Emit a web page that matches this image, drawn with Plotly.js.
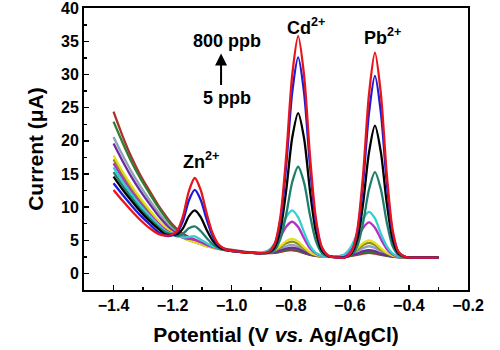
<!DOCTYPE html>
<html>
<head>
<meta charset="utf-8">
<script src="https://cdn.plot.ly/plotly-3.0.1.min.js"></script>
<style>html,body{margin:0;padding:0;background:#fff;}#chart{width:500px;height:350px;}</style>
</head>
<body>
<div id="chart"></div>
<script>
// Potential (V vs. Ag/AgCl)
const potential = [-1.40,-1.37,-1.34,-1.31,-1.28,-1.25,-1.225,-1.205,-1.185,-1.165,-1.145,-1.125,-1.105,-1.085,-1.065,-1.045,-1.02,-0.99,-0.96,-0.93,-0.90,
  -0.875,-0.855,-0.835,-0.815,-0.795,-0.775,-0.755,-0.735,-0.715,-0.695,-0.675,-0.655,-0.635,
  -0.615,-0.595,-0.575,-0.555,-0.535,-0.515,-0.495,-0.475,-0.455,-0.435,-0.41,-0.37,-0.33,-0.30];

// Current (µA), lowest to highest concentration
const curBrown = [24.4,20.8,17.6,14.9,12.6,10.4,8.8,7.6,6.7,6.0,5.5,5.1,4.7,4.4,4.1,3.9,3.7,3.5,3.3,3.2,3.1,
  3.05,3.1,3.25,3.45,3.5,3.35,3.05,2.8,2.65,2.6,2.6,2.55,2.55,
  2.55,2.65,2.8,3.0,3.1,3.0,2.8,2.65,2.55,2.45,2.4,2.4,2.4,2.4];
const curGreen = [22.9,19.8,16.9,14.4,12.2,10.1,8.5,7.3,6.4,5.8,5.3,4.9,4.6,4.3,4.0,3.8,3.6,3.4,3.25,3.1,3.05,
  3.1,3.15,3.35,3.6,3.7,3.5,3.15,2.85,2.65,2.6,2.6,2.55,2.55,
  2.55,2.7,2.9,3.2,3.3,3.2,2.9,2.7,2.55,2.45,2.4,2.4,2.4,2.4];
const curGray = [20.6,17.9,15.4,13.2,11.2,9.3,7.9,6.9,6.2,5.6,5.2,4.85,4.5,4.2,3.95,3.75,3.55,3.35,3.2,3.1,3.05,
  3.1,3.3,3.65,4.1,4.3,4.0,3.5,3.0,2.7,2.6,2.6,2.55,2.55,
  2.6,2.9,3.35,3.85,4.1,3.85,3.35,2.9,2.6,2.5,2.45,2.4,2.4,2.4];
const curPurple = [19.6,17.0,14.6,12.5,10.6,8.8,7.5,6.6,6.0,5.5,5.1,4.8,4.5,4.2,3.95,3.75,3.55,3.35,3.2,3.1,3.05,
  3.1,3.2,3.45,3.75,3.9,3.7,3.25,2.9,2.7,2.6,2.6,2.55,2.55,
  2.55,2.75,3.0,3.35,3.5,3.35,3.0,2.75,2.55,2.45,2.4,2.4,2.4,2.4];
const curOlive = [17.2,14.9,12.9,11.0,9.4,7.9,6.9,6.2,5.8,5.4,5.0,4.7,4.4,4.1,3.9,3.7,3.5,3.35,3.2,3.1,3.05,
  3.15,3.4,3.95,4.55,4.8,4.45,3.75,3.1,2.75,2.6,2.6,2.55,2.55,
  2.65,3.0,3.6,4.3,4.6,4.3,3.6,3.0,2.65,2.5,2.45,2.4,2.4,2.4];
const curYellow = [17.8,15.4,13.3,11.4,9.7,8.1,7.0,6.3,5.8,5.4,5.0,4.7,4.4,4.1,3.9,3.7,3.5,3.35,3.2,3.1,3.05,
  3.2,3.5,4.15,4.9,5.2,4.8,3.95,3.2,2.8,2.6,2.6,2.55,2.55,
  2.7,3.1,3.8,4.6,5.0,4.6,3.8,3.1,2.7,2.55,2.45,2.4,2.4,2.4];
const curMagenta = [16.6,14.4,12.4,10.6,9.0,7.6,6.6,6.1,5.8,5.4,5.2,5.1,4.7,4.3,4.0,3.75,3.5,3.35,3.2,3.1,3.1,
  3.4,4.1,5.5,7.1,7.8,7.0,5.3,3.8,3.0,2.65,2.6,2.55,2.6,
  2.9,3.7,5.2,6.9,7.7,6.9,5.2,3.7,2.85,2.55,2.45,2.4,2.4,2.4];
const curCyan = [16.0,13.9,12.0,10.3,8.8,7.4,6.4,6.0,5.7,5.4,5.5,5.6,5.1,4.6,4.1,3.8,3.5,3.35,3.2,3.1,3.1,
  3.5,4.5,6.4,8.55,9.5,8.45,6.2,4.2,3.1,2.7,2.6,2.55,2.6,
  3.0,4.1,6.0,8.3,9.3,8.3,6.0,4.1,3.0,2.6,2.45,2.4,2.4,2.4];
const curTeal = [15.3,13.3,11.5,9.8,8.4,7.1,6.2,5.9,5.6,6.0,6.8,7.1,6.4,5.35,4.45,3.85,3.5,3.35,3.2,3.1,3.05,
  3.1,3.5,5.2,9.0,13.8,16.1,13.7,8.8,4.9,3.1,2.6,2.5,2.5,
  2.45,2.8,4.1,7.7,12.7,15.3,12.7,7.7,4.1,2.8,2.45,2.4,2.4,2.4];
const curBlack = [14.6,12.7,11.0,9.4,8.0,6.8,5.9,5.8,5.9,6.8,8.6,9.5,8.5,6.6,5.0,4.05,3.55,3.35,3.2,3.1,3.05,
  3.15,3.9,6.6,12.7,20.5,24.2,20.4,12.5,6.3,3.5,2.65,2.45,2.4,
  2.45,3.0,5.1,10.6,18.3,22.3,18.3,10.6,5.1,3.0,2.45,2.4,2.4,2.4];
const curBlue = [13.6,11.9,10.3,8.8,7.5,6.3,5.7,5.7,6.2,7.9,11.0,12.6,11.1,8.2,5.7,4.3,3.6,3.35,3.2,3.1,3.05,
  3.2,4.3,8.0,16.5,27.4,32.6,27.3,16.3,7.7,3.9,2.7,2.45,2.4,
  2.5,3.2,6.1,13.7,24.3,29.8,24.3,13.7,6.1,3.2,2.45,2.4,2.4,2.4];
const curRed = [12.6,11.0,9.5,8.1,6.9,6.0,5.7,5.8,6.4,8.6,12.4,14.4,12.6,9.1,6.1,4.4,3.6,3.35,3.2,3.1,3.05,
  3.25,4.4,8.6,17.95,29.96,35.8,29.9,17.75,8.3,4.0,2.75,2.45,2.4,
  2.4,3.2,6.5,15.0,27.1,33.3,27.1,15.0,6.5,3.2,2.45,2.4,2.4,2.4];

const seriesList = [curBrown,curGreen,curGray,curPurple,curOlive,curYellow,curMagenta,curCyan,curTeal,curBlack,curBlue,curRed];
const colors = ['#a8322c','#2f7d2f','#8fa0b8','#6a2c9c','#8c8a22','#e3df1e','#b52fc6','#35cfd0','#1f7f6c','#000000','#1c1cd8','#e8141c'];

const traces = seriesList.map((ys, i) => ({
  x: potential, y: ys, type: 'scatter', mode: 'lines',
  line: {color: colors[i], width: 2.3, shape: 'spline', smoothing: 0.8},
  showlegend: false, hoverinfo: 'skip'
}));

const FONT = 'Arial, "Liberation Sans", sans-serif';
const layout = {
  width: 500, height: 350,
  margin: {l: 84, r: 32, t: 8, b: 60},
  paper_bgcolor: '#fff', plot_bgcolor: '#fff',
  font: {family: FONT, color: '#000'},
  xaxis: {
    range: [-1.5, -0.2], dtick: 0.2, tick0: -1.4, tickformat: '.1f',
    ticks: 'inside', ticklen: 5, tickwidth: 1.5, tickcolor: '#000',
    minor: {dtick: 0.1, ticks: 'inside', ticklen: 3, tickcolor: '#000', tickwidth: 1.5},
    showline: true, linecolor: '#000', linewidth: 2, mirror: true,
    showgrid: false, zeroline: false, ticklabeloverflow: 'allow',
    tickfont: {family: FONT, size: 16, weight: 'bold'},
    title: {text: '<b>Potential (V <i>vs.</i> Ag/AgCl)</b>', font: {family: FONT, size: 21}, standoff: 14}
  },
  yaxis: {
    range: [-2.5, 40.05], dtick: 5, tick0: 0,
    ticks: 'inside', ticklen: 5, tickwidth: 1.5, tickcolor: '#000',
    minor: {dtick: 2.5, ticks: 'inside', ticklen: 3, tickcolor: '#000', tickwidth: 1.5},
    showline: true, linecolor: '#000', linewidth: 2, mirror: true,
    showgrid: false, zeroline: false, ticklabeloverflow: 'allow',
    tickfont: {family: FONT, size: 16, weight: 'bold'},
    title: {text: '<b>Current (μA)</b>', font: {family: FONT, size: 21}, standoff: 12}
  },
  annotations: [
    {x: -1.105, y: 17.0, text: '<b>Zn<sup>2+</sup></b>', showarrow: false, font: {family: FONT, size: 18}},
    {x: -0.75, y: 37.3, text: '<b>Cd<sup>2+</sup></b>', showarrow: false, font: {family: FONT, size: 18}},
    {x: -0.49, y: 35.8, text: '<b>Pb<sup>2+</sup></b>', showarrow: false, font: {family: FONT, size: 18}},
    {x: -1.015, y: 35.0, text: '<b>800 ppb</b>', showarrow: false, font: {family: FONT, size: 18}},
    {x: -1.015, y: 26.5, text: '<b>5 ppb</b>', showarrow: false, font: {family: FONT, size: 18}},
    {x: -1.036, y: 33.2, ax: -1.036, ay: 28.2, axref: 'x', ayref: 'y', xref: 'x', yref: 'y',
     text: '', showarrow: true, arrowhead: 2, arrowsize: 1.2, arrowwidth: 2, arrowcolor: '#000'}
  ]
};

Plotly.newPlot('chart', traces, layout, {staticPlot: true, displayModeBar: false});
</script>
</body>
</html>
